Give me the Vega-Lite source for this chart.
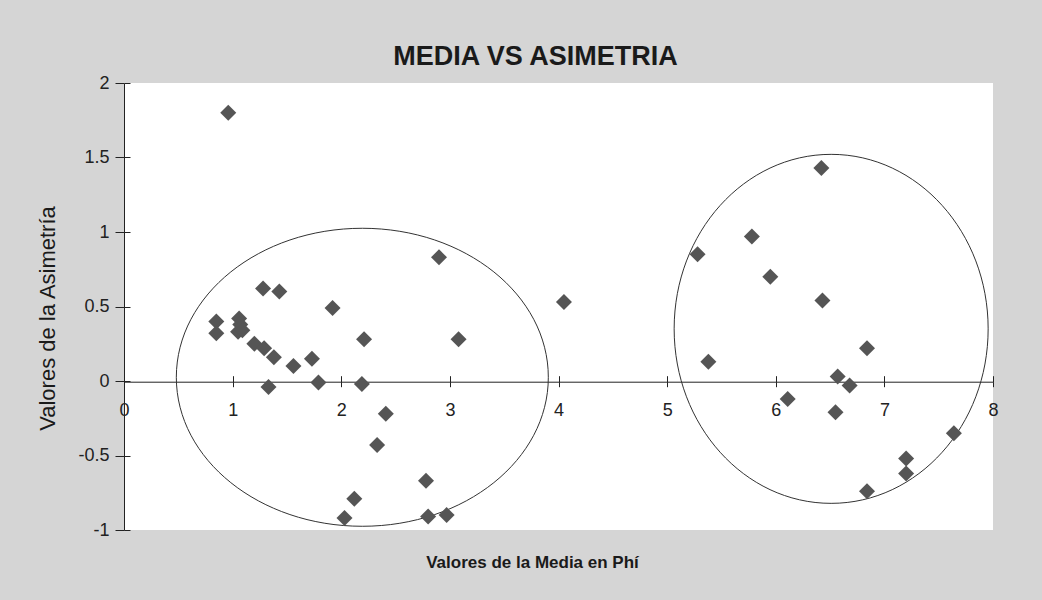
{
  "$schema": "https://vega.github.io/schema/vega-lite/v6.json",
  "autosize": {"type": "none"},
  "width": 869,
  "height": 447,
  "padding": {"left": 124, "top": 83, "right": 49, "bottom": 70},
  "background": "#d5d5d5",
  "title": {
    "text": "MEDIA VS ASIMETRIA",
    "font": "Liberation Sans",
    "fontSize": 27,
    "fontWeight": "bold",
    "color": "#1a1a1a",
    "anchor": "middle",
    "dx": -23,
    "offset": -18,
    "baseline": "alphabetic"
  },
  "config": {
    "view": {"fill": "white", "stroke": null},
    "axis": {
      "labelFont": "Liberation Sans",
      "titleFont": "Liberation Sans",
      "labelColor": "#222",
      "titleColor": "#1a1a1a",
      "domainColor": "#222",
      "tickColor": "#222",
      "grid": false
    }
  },
  "datasets": {
    "pts": [
      {"media": 0.96, "asimetria": 1.80},
      {"media": 0.85, "asimetria": 0.40},
      {"media": 0.85, "asimetria": 0.32},
      {"media": 1.06, "asimetria": 0.42},
      {"media": 1.07, "asimetria": 0.38},
      {"media": 1.05, "asimetria": 0.33},
      {"media": 1.09, "asimetria": 0.34},
      {"media": 1.20, "asimetria": 0.25},
      {"media": 1.28, "asimetria": 0.62},
      {"media": 1.29, "asimetria": 0.22},
      {"media": 1.33, "asimetria": -0.04},
      {"media": 1.38, "asimetria": 0.16},
      {"media": 1.43, "asimetria": 0.60},
      {"media": 1.56, "asimetria": 0.10},
      {"media": 1.73, "asimetria": 0.15},
      {"media": 1.79, "asimetria": -0.01},
      {"media": 1.92, "asimetria": 0.49},
      {"media": 2.03, "asimetria": -0.92},
      {"media": 2.12, "asimetria": -0.79},
      {"media": 2.19, "asimetria": -0.02},
      {"media": 2.21, "asimetria": 0.28},
      {"media": 2.33, "asimetria": -0.43},
      {"media": 2.41, "asimetria": -0.22},
      {"media": 2.78, "asimetria": -0.67},
      {"media": 2.80, "asimetria": -0.91},
      {"media": 2.90, "asimetria": 0.83},
      {"media": 2.97, "asimetria": -0.90},
      {"media": 3.08, "asimetria": 0.28},
      {"media": 4.05, "asimetria": 0.53},
      {"media": 5.28, "asimetria": 0.85},
      {"media": 5.38, "asimetria": 0.13},
      {"media": 5.78, "asimetria": 0.97},
      {"media": 5.95, "asimetria": 0.70},
      {"media": 6.11, "asimetria": -0.12},
      {"media": 6.42, "asimetria": 1.43},
      {"media": 6.43, "asimetria": 0.54},
      {"media": 6.55, "asimetria": -0.21},
      {"media": 6.57, "asimetria": 0.03},
      {"media": 6.68, "asimetria": -0.03},
      {"media": 6.84, "asimetria": 0.22},
      {"media": 6.84, "asimetria": -0.74},
      {"media": 7.20, "asimetria": -0.52},
      {"media": 7.20, "asimetria": -0.62},
      {"media": 7.64, "asimetria": -0.35}
    ],
    "grupos": [
      {"grupo": "izquierda", "media": 2.194, "asimetria": 0.025},
      {"grupo": "derecha", "media": 6.51, "asimetria": 0.35}
    ]
  },
  "resolve": {"axis": {"x": "independent", "y": "independent"}},
  "layer": [
    {
      "data": {"name": "grupos"},
      "transform": [{"filter": "datum.grupo === 'izquierda'"}],
      "mark": {
        "type": "point",
        "shape": "M-1,0C-1,-0.4424,-0.5523,-0.8011,0,-0.8011C0.5523,-0.8011,1,-0.4424,1,0C1,0.4424,0.5523,0.8011,0,0.8011C-0.5523,0.8011,-1,0.4424,-1,0Z",
        "size": 138384,
        "filled": false,
        "stroke": "#333",
        "strokeWidth": 1,
        "opacity": 1
      },
      "encoding": {
        "x": {
          "field": "media", "type": "quantitative",
          "scale": {"domain": [0, 8], "nice": false, "zero": false},
          "axis": {
            "orient": "bottom",
            "offset": -148.3,
            "values": [0, 1, 2, 3, 4, 5, 6, 7, 8],
            "labelExpr": "'' + datum.value",
            "labelFontSize": 18,
            "tickSize": 5,
            "labelPadding": 15,
            "labelFlush": false,
            "labelOverlap": false,
            "title": "Valores de la Media en Phí",
            "titleFontSize": 17,
            "titleFontWeight": "bold",
            "titleX": 408,
            "titleY": 181,
            "titleBaseline": "middle",
            "titleAlign": "center"
          }
        },
        "y": {
          "field": "asimetria", "type": "quantitative",
          "scale": {"domain": [-1, 2], "nice": false, "zero": false},
          "axis": {
            "orient": "left",
            "values": [-1, -0.5, 0, 0.5, 1, 1.5, 2],
            "labelExpr": "'' + datum.value",
            "labelFontSize": 18,
            "tickSize": 9,
            "labelPadding": 6,
            "labelFlush": false,
            "labelOverlap": false,
            "title": "Valores de la Asimetría",
            "titleFontSize": 22,
            "titleFontWeight": "normal",
            "titleAngle": -90,
            "titleX": -77,
            "titleY": 235,
            "titleBaseline": "middle",
            "titleAlign": "center"
          }
        }
      }
    },
    {
      "data": {"name": "grupos"},
      "transform": [{"filter": "datum.grupo === 'derecha'"}],
      "mark": {
        "type": "point",
        "shape": "M-1,0C-1,-0.6139,-0.5523,-1.1115,0,-1.1115C0.5523,-1.1115,1,-0.6139,1,0C1,0.6139,0.5523,1.1115,0,1.1115C-0.5523,1.1115,-1,0.6139,-1,0Z",
        "size": 98596,
        "filled": false,
        "stroke": "#333",
        "strokeWidth": 1,
        "opacity": 1
      },
      "encoding": {
        "x": {"field": "media", "type": "quantitative", "axis": null},
        "y": {"field": "asimetria", "type": "quantitative", "axis": null}
      }
    },
    {
      "data": {"name": "pts"},
      "mark": {
        "type": "point",
        "shape": "diamond",
        "filled": true,
        "size": 256,
        "color": "#555555",
        "opacity": 1
      },
      "encoding": {
        "x": {
          "field": "media", "type": "quantitative",
          "axis": {
            "orient": "top",
            "offset": -298.7,
            "values": [0, 1, 2, 3, 4, 5, 6, 7, 8],
            "labels": false,
            "domain": false,
            "tickSize": 6,
            "title": null
          }
        },
        "y": {
          "field": "asimetria", "type": "quantitative",
          "axis": {
            "orient": "right",
            "offset": -869,
            "values": [-1, -0.5, 0, 0.5, 1, 1.5, 2],
            "labels": false,
            "domain": false,
            "tickSize": 6,
            "title": null
          }
        }
      }
    }
  ]
}
